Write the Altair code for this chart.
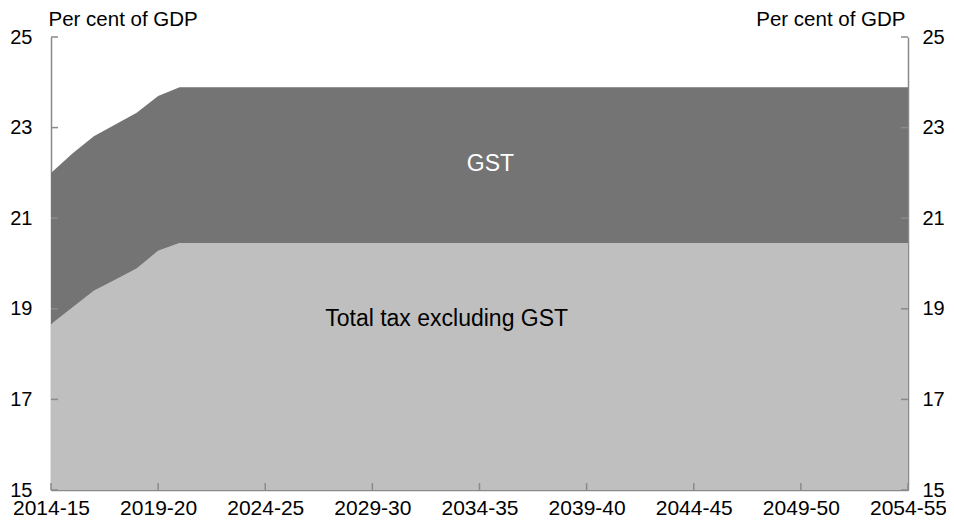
import altair as alt
import pandas as pd

years = ["2014-15", "2015-16", "2016-17", "2017-18", "2018-19", "2019-20", "2020-21",
         "2021-22", "2022-23", "2023-24", "2024-25", "2025-26", "2026-27", "2027-28",
         "2028-29", "2029-30", "2030-31", "2031-32", "2032-33", "2033-34", "2034-35",
         "2035-36", "2036-37", "2037-38", "2038-39", "2039-40", "2040-41", "2041-42",
         "2042-43", "2043-44", "2044-45", "2045-46", "2046-47", "2047-48", "2048-49",
         "2049-50", "2050-51", "2051-52", "2052-53", "2053-54", "2054-55"]

tax_excl_gst = [18.66, 19.03, 19.40, 19.64, 19.89, 20.28, 20.45,
                20.45, 20.45, 20.45, 20.45, 20.45, 20.45, 20.45,
                20.45, 20.45, 20.45, 20.45, 20.45, 20.45, 20.45,
                20.45, 20.45, 20.45, 20.45, 20.45, 20.45, 20.45,
                20.45, 20.45, 20.45, 20.45, 20.45, 20.45, 20.45,
                20.45, 20.45, 20.45, 20.45, 20.45, 20.45]

total_tax = [22.00, 22.43, 22.81, 23.07, 23.33, 23.70, 23.89,
             23.89, 23.89, 23.89, 23.89, 23.89, 23.89, 23.89,
             23.89, 23.89, 23.89, 23.89, 23.89, 23.89, 23.89,
             23.89, 23.89, 23.89, 23.89, 23.89, 23.89, 23.89,
             23.89, 23.89, 23.89, 23.89, 23.89, 23.89, 23.89,
             23.89, 23.89, 23.89, 23.89, 23.89, 23.89]

y_ticks = [15, 17, 19, 21, 23, 25]
x_tick_labels = ["2014-15", "2019-20", "2024-25", "2029-30", "2034-35",
                 "2039-40", "2044-45", "2049-50", "2054-55"]

label_texts = ["GST", "Total tax excluding GST"]
label_year = ["2034-35", "2032-33"]
label_y = [22.2, 18.77]
label_colors = ["white", "black"]
label_dx = [11, 10]

FONT = "Liberation Sans"
AXIS_GREY = "#8a8a8a"
W, H = 857, 453

df = pd.DataFrame({
    "year": years,
    "base": tax_excl_gst,
    "total": total_tax,
    "floor": [15] * len(years),
})

xscale = alt.Scale(type="point", domain=years, padding=0)
yscale = alt.Scale(domain=[15, 25], nice=False, zero=False)

x_axis = alt.Axis(values=x_tick_labels, ticks=False, grid=False, labelAngle=0,
                  domainColor=AXIS_GREY, domainWidth=1.5, labelPadding=7,
                  labelFontSize=21, labelFont=FONT, labelColor="black",
                  labelOverlap=False, title=None)

left_axis = alt.Axis(orient="left", values=y_ticks, ticks=False, grid=False,
                     domainColor=AXIS_GREY, domainWidth=1.5, labelPadding=19,
                     labelFontSize=20, labelFont=FONT, labelColor="black",
                     title="Per cent of GDP", titleAngle=0, titleAlign="left",
                     titleBaseline="alphabetic", titleX=-3, titleY=-12,
                     titleFont=FONT, titleFontSize=20.5, titleFontWeight="normal",
                     titleColor="black")

right_axis = alt.Axis(orient="right", values=y_ticks, ticks=False, grid=False,
                      domainColor=AXIS_GREY, domainWidth=1.5, labelPadding=14,
                      labelFontSize=20, labelFont=FONT, labelColor="black",
                      title="Per cent of GDP", titleAngle=0, titleAlign="right",
                      titleBaseline="alphabetic", titleX=-3, titleY=-12,
                      titleFont=FONT, titleFontSize=20.5, titleFontWeight="normal",
                      titleColor="black")

base_area = alt.Chart(df).mark_area(color="#bfbfbf", clip=True).encode(
    x=alt.X("year:O", scale=xscale, axis=x_axis),
    y=alt.Y("base:Q", scale=yscale, axis=left_axis),
    y2="floor:Q",
)

gst_area = alt.Chart(df).mark_area(color="#747474", clip=True).encode(
    x=alt.X("year:O", scale=xscale),
    y=alt.Y("total:Q", scale=yscale, axis=right_axis),
    y2="base:Q",
)

ydf = pd.DataFrame({"v": y_ticks})
xdf = pd.DataFrame({"year": x_tick_labels})

left_ticks = alt.Chart(ydf).mark_rule(color=AXIS_GREY, strokeWidth=1.5).encode(
    y=alt.Y("v:Q", scale=yscale, axis=None),
    x=alt.value(0), x2=alt.value(7),
)
right_ticks = alt.Chart(ydf).mark_rule(color=AXIS_GREY, strokeWidth=1.5).encode(
    y=alt.Y("v:Q", scale=yscale, axis=None),
    x=alt.value(W - 7), x2=alt.value(W),
)
bottom_ticks = alt.Chart(xdf).mark_rule(color=AXIS_GREY, strokeWidth=1.5).encode(
    x=alt.X("year:O", scale=xscale),
    y=alt.value(H), y2=alt.value(H - 7),
)

ldf = pd.DataFrame({"t": label_texts, "year": label_year, "y": label_y,
                    "c": label_colors, "dx": label_dx})
text_layers = []
for i in range(len(label_texts)):
    text_layers.append(
        alt.Chart(ldf.iloc[[i]]).mark_text(font=FONT, fontSize=23, align="center",
                                           baseline="middle", dx=int(label_dx[i]),
                                           color=label_colors[i]).encode(
            x=alt.X("year:O", scale=xscale),
            y=alt.Y("y:Q", scale=yscale, axis=None),
            text="t:N",
        )
    )

chart = alt.layer(base_area, gst_area, left_ticks, right_ticks, bottom_ticks,
                  *text_layers).resolve_axis(
    y="independent"
).properties(
    width=W, height=H,
    autosize=alt.AutoSizeParams(type="none"),
    padding={"left": 43, "top": 29, "right": 38, "bottom": 27},
    background="white",
).configure_view(stroke=None)

chart.save("out.html", embed_options={"renderer": "svg", "actions": False})
